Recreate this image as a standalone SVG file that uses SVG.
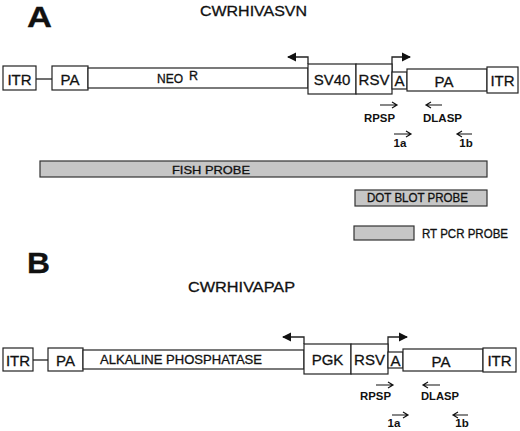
<svg xmlns="http://www.w3.org/2000/svg" width="520" height="431" viewBox="0 0 520 431">
<style>
text{font-family:"Liberation Sans",Arial,sans-serif;fill:#111;stroke:#111;stroke-width:0.3}
.box{fill:#fff;stroke:#222;stroke-width:1.2}
.probe{fill:#c6c6c6;stroke:#333;stroke-width:1.2}
.ln{fill:none;stroke:#222;stroke-width:1.3}
.pr{fill:none;stroke:#111;stroke-width:1.2}
.big{font-weight:bold;font-size:30px}
.title{font-size:15px}
.bt{font-size:15px;text-anchor:middle}
.sm{font-size:11.5px;text-anchor:middle;font-weight:bold;stroke-width:0}
.pl{font-size:11.5px;font-weight:bold;stroke-width:0}
</style>
<defs>
<marker id="ah" markerWidth="9" markerHeight="10" refX="8" refY="5" orient="auto" markerUnits="userSpaceOnUse">
<path d="M0,0.5 L9,5 L0,9.5 Z" fill="#111"/>
</marker>
</defs>
<rect width="520" height="431" fill="#fff" stroke="none"/>

<g id="panelA-label"><text class="big" x="27" y="27" textLength="25" lengthAdjust="spacingAndGlyphs">A</text></g>
<g id="titleA"><text class="title" x="200" y="15.5" textLength="107" lengthAdjust="spacingAndGlyphs">CWRHIVASVN</text></g>

<g id="connectors">
<line class="ln" x1="36" y1="79" x2="52" y2="79"/>
<path class="ln" d="M308,64 V57 H288" marker-end="url(#ah)"/>
<path class="ln" d="M392,72 V57 H410" marker-end="url(#ah)"/>
<line class="ln" x1="33" y1="360" x2="48" y2="360"/>
<path class="ln" d="M304,344 V337 H283" marker-end="url(#ah)"/>
<path class="ln" d="M388,352 V337 H407" marker-end="url(#ah)"/>
<path class="pr" d="M380,105 H397 M392,102 L397,105 L392,108"/>
<path class="pr" d="M442,105 H426 M431,102 L426,105 L431,108"/>
<path class="pr" d="M394,134 H411 M406,131 L411,134 L406,137"/>
<path class="pr" d="M472,134 H457 M462,131 L457,134 L462,137"/>
<path class="pr" d="M376,385 H393 M388,382 L393,385 L388,388"/>
<path class="pr" d="M440,385 H423 M428,382 L423,385 L428,388"/>
<path class="pr" d="M392,415 H408 M403,412 L408,415 L403,418"/>
<path class="pr" d="M468,415 H453 M458,412 L453,415 L458,418"/>
</g>

<g id="A-ITR-left"><rect class="box" x="3" y="66" width="33" height="24"/><text class="bt" x="19.5" y="85">ITR</text></g>
<g id="A-PA-left"><rect class="box" x="52" y="66" width="36" height="24"/><text class="bt" x="70" y="85">PA</text></g>
<g id="A-NEO"><rect class="box" x="88" y="68" width="220" height="20"/><text x="157" y="83" font-size="12">NEO</text><text x="189" y="80" font-size="12.5">R</text></g>
<g id="A-SV40"><rect class="box" x="308" y="64" width="48" height="30"/><text class="bt" x="332" y="85" font-size="16">SV40</text></g>
<g id="A-RSV"><rect class="box" x="356" y="64" width="36" height="30"/><text class="bt" x="374" y="85" font-size="16">RSV</text></g>
<g id="A-A"><rect class="box" x="392" y="72" width="15" height="17"/><text class="bt" x="399.5" y="86" font-size="14">A</text></g>
<g id="A-PA-right"><rect class="box" x="407" y="69" width="80" height="22"/><text class="bt" x="444" y="87" font-size="17">PA</text></g>
<g id="A-ITR-right"><rect class="box" x="487" y="67" width="31" height="26"/><text class="bt" x="502.5" y="86">ITR</text></g>

<g id="A-primers">
<text class="pl" x="364" y="122" textLength="31" lengthAdjust="spacingAndGlyphs">RPSP</text>
<text class="pl" x="423" y="122" textLength="39" lengthAdjust="spacingAndGlyphs">DLASP</text>
<text class="sm" x="400" y="147">1a</text>
<text class="sm" x="466" y="147">1b</text>
</g>

<g id="fish-probe"><rect class="probe" x="40" y="161" width="447" height="16"/><text x="172" y="174" font-size="11.5" textLength="78" lengthAdjust="spacingAndGlyphs">FISH PROBE</text></g>
<g id="dot-blot-probe"><rect class="probe" x="355" y="190" width="132" height="16"/><text x="367" y="202" font-size="12" textLength="101" lengthAdjust="spacingAndGlyphs">DOT BLOT PROBE</text></g>
<g id="rt-pcr-probe"><rect class="probe" x="354" y="226" width="60" height="14"/><text x="422" y="238" font-size="12" textLength="86" lengthAdjust="spacingAndGlyphs">RT PCR PROBE</text></g>

<g id="panelB-label"><text class="big" x="27" y="273" textLength="23" lengthAdjust="spacingAndGlyphs">B</text></g>
<g id="titleB"><text class="title" x="188" y="292" textLength="107" lengthAdjust="spacingAndGlyphs">CWRHIVAPAP</text></g>

<g id="B-ITR-left"><rect class="box" x="3" y="348" width="30" height="23"/><text class="bt" x="18" y="366">ITR</text></g>
<g id="B-PA-left"><rect class="box" x="48" y="348" width="35" height="23"/><text class="bt" x="65.5" y="366">PA</text></g>
<g id="B-ALP"><rect class="box" x="83" y="350" width="221" height="19"/><text x="100" y="364" font-size="13" textLength="162" lengthAdjust="spacingAndGlyphs">ALKALINE PHOSPHATASE</text></g>
<g id="B-PGK"><rect class="box" x="304" y="344" width="47" height="30"/><text class="bt" x="327.5" y="365" font-size="16">PGK</text></g>
<g id="B-RSV"><rect class="box" x="351" y="344" width="37" height="30"/><text class="bt" x="369.5" y="365" font-size="16">RSV</text></g>
<g id="B-A"><rect class="box" x="388" y="352" width="15" height="16"/><text class="bt" x="395.5" y="366" font-size="14">A</text></g>
<g id="B-PA-right"><rect class="box" x="403" y="349" width="80" height="22"/><text class="bt" x="441" y="367" font-size="17">PA</text></g>
<g id="B-ITR-right"><rect class="box" x="483" y="348" width="33" height="24"/><text class="bt" x="499.5" y="366">ITR</text></g>

<g id="B-primers">
<text class="pl" x="360" y="400" textLength="31" lengthAdjust="spacingAndGlyphs">RPSP</text>
<text class="pl" x="421" y="400" textLength="38" lengthAdjust="spacingAndGlyphs">DLASP</text>
<text class="sm" x="394" y="427">1a</text>
<text class="sm" x="462" y="427">1b</text>
</g>
</svg>
